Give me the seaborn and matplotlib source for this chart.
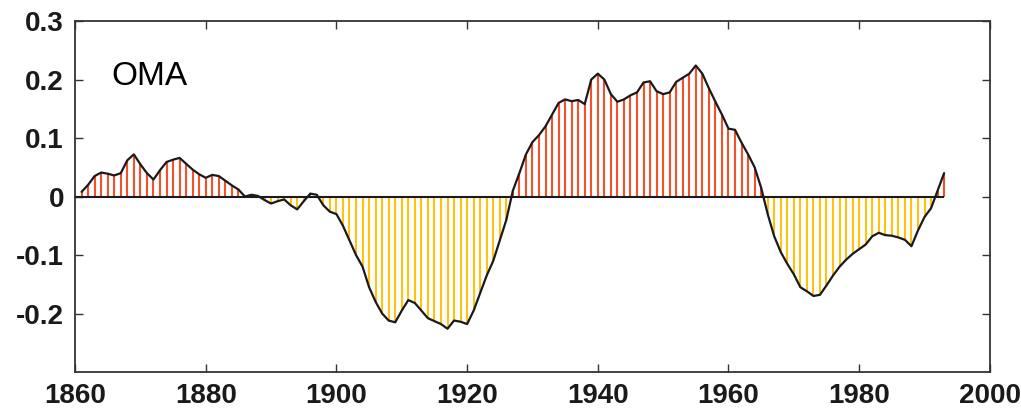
import numpy as np
import pandas as pd
import matplotlib
matplotlib.use("Agg")
import matplotlib.pyplot as plt
import seaborn as sns

# annual OMA index, 1861-1993
years = list(range(1861, 1994))
oma = [
    0.008, 0.020, 0.035, 0.041, 0.039, 0.036, 0.040, 0.062, 0.072, 0.055,   # 1861-1870
    0.040, 0.029, 0.045, 0.059, 0.063, 0.066, 0.056, 0.046, 0.038, 0.032,   # 1871-1880
    0.037, 0.035, 0.027, 0.019, 0.012, 0.000, 0.003, 0.001, -0.006, -0.012,  # 1881-1890
    -0.008, -0.005, -0.015, -0.022, -0.008, 0.005, 0.003, -0.015, -0.026, -0.030,  # 1891-1900
    -0.050, -0.075, -0.100, -0.120, -0.155, -0.180, -0.200, -0.212, -0.215, -0.195,  # 1901-1910
    -0.177, -0.182, -0.195, -0.208, -0.213, -0.218, -0.226, -0.212, -0.214, -0.218,  # 1911-1920
    -0.195, -0.165, -0.135, -0.110, -0.075, -0.040, 0.010, 0.040, 0.072, 0.093,  # 1921-1930
    0.105, 0.120, 0.140, 0.160, 0.166, 0.163, 0.165, 0.158, 0.200, 0.210,   # 1931-1940
    0.200, 0.175, 0.162, 0.166, 0.173, 0.178, 0.195, 0.197, 0.180, 0.175,   # 1941-1950
    0.178, 0.196, 0.203, 0.210, 0.224, 0.210, 0.185, 0.162, 0.140, 0.116,   # 1951-1960
    0.114, 0.092, 0.072, 0.050, 0.015, -0.030, -0.068, -0.095, -0.115, -0.133,  # 1961-1970
    -0.155, -0.162, -0.170, -0.168, -0.152, -0.135, -0.120, -0.108, -0.098, -0.090,  # 1971-1980
    -0.082, -0.068, -0.062, -0.066, -0.067, -0.070, -0.074, -0.085, -0.058, -0.035,  # 1981-1990
    -0.020, 0.010, 0.040,   # 1991-1993
]
yticks = [-0.2, -0.1, 0, 0.1, 0.2, 0.3]
ytick_labels = ["-0.2", "-0.1", "0", "0.1", "0.2", "0.3"]
xticks = [1860, 1880, 1900, 1920, 1940, 1960, 1980, 2000]

df = pd.DataFrame({"year": years, "oma": oma})

sns.set_style("ticks")
plt.rcParams["font.family"] = ["Liberation Sans", "DejaVu Sans"]

fig = plt.figure(figsize=(10.21, 4.12), dpi=100)
ax = fig.add_axes([0.0735, 0.097, 0.896, 0.852])

pos = df[df["oma"] >= 0]
neg = df[df["oma"] < 0]
ax.vlines(pos["year"], 0, pos["oma"], colors="#f4502a", linewidth=1.5)
ax.vlines(neg["year"], 0, neg["oma"], colors="#ffc20e", linewidth=1.5)
ax.hlines(0, 1860, years[-1], colors="#1a1a1a", linewidth=1.5, zorder=3)
sns.lineplot(data=df, x="year", y="oma", ax=ax, color="#1a1a1a", linewidth=1.6, zorder=4)

ax.text(1865.5, 0.205, "OMA", fontsize=24, va="center", ha="left", color="black")

ax.set_xlim(1860, 2000)
ax.set_ylim(-0.3, 0.3)
ax.set_xticks(xticks)
ax.set_yticks(yticks)
ax.set_yticklabels(ytick_labels)
ax.set_xlabel("")
ax.set_ylabel("")
ax.tick_params(direction="in", length=6, width=1, top=True, right=True,
               labelsize=20, colors="#333333", labelcolor="#1a1a1a", pad=8)
for lab in ax.get_xticklabels() + ax.get_yticklabels():
    lab.set_fontweight("bold")
for s in ax.spines.values():
    s.set_color("#333333")
    s.set_linewidth(1.3)

fig.savefig("out.png", dpi=100)
